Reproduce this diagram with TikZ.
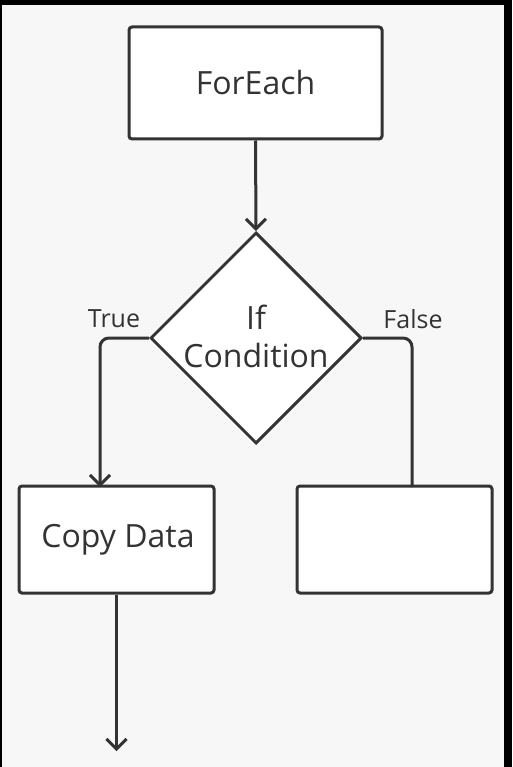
\documentclass[tikz,border=0pt]{standalone}
\usepackage{fontspec}
\setmainfont{Open Sans}
\usetikzlibrary{arrows.meta,shapes.geometric}
\definecolor{ink}{HTML}{333333}
\definecolor{bg}{HTML}{F7F7F7}
\tikzset{
  box/.style={draw=ink,fill=white,line width=3pt,rounded corners=3pt,inner sep=0pt},
  conn/.style={draw=ink,line width=3pt,rounded corners=9pt},
  arr/.style={-{Straight Barb[length=10pt,width=20pt,line width=3pt]}},
  lbl/.style={text=ink,font=\fontsize{25}{30}\selectfont},
  txt/.style={text=ink,font=\fontsize{32}{42}\selectfont,align=center},
}
\begin{document}
\begin{tikzpicture}[x=1pt,y=-1pt]
\useasboundingbox (0,0) rectangle (512,767);
\fill[bg] (0,0) rectangle (512,767);
\fill[black] (0,0) rectangle (512,5);
\fill[black] (504,0) rectangle (512,767);
\fill[black] (0,0) rectangle (1.5,767);
% nodes
\node[box,minimum width=253pt,minimum height=112pt] (fe) at (255.5,83) {};
\node[txt] at (fe.center) {ForEach};
\node[draw=ink,fill=white,line width=3pt,diamond,aspect=1,minimum width=211pt,minimum height=211pt,inner sep=0pt] (ic) at (256,338) {};
\node[txt] (ict) at (256,336) {If\\[-4pt]Condition};
\node[box,minimum width=195pt,minimum height=107pt] (cd) at (116.5,539.5) {};
\node[txt] at (118,540) {Copy Data};
\node[box,minimum width=195pt,minimum height=107pt] (rb) at (394.5,539.5) {};
\coordinate (end) at (116.5,751);
% labels
\node[lbl] (tl) at (114,319) {True};
\node[lbl] (fl) at (413,319) {False};
% connectors
\draw[conn,arr] (fe.south) -- (ic.north);
\draw[conn,arr] (ic.west) -| (100,487);
\draw[conn] (ic.east) -| (412,487);
\draw[conn,arr] (cd.south) -- (end);
\end{tikzpicture}
\end{document}
